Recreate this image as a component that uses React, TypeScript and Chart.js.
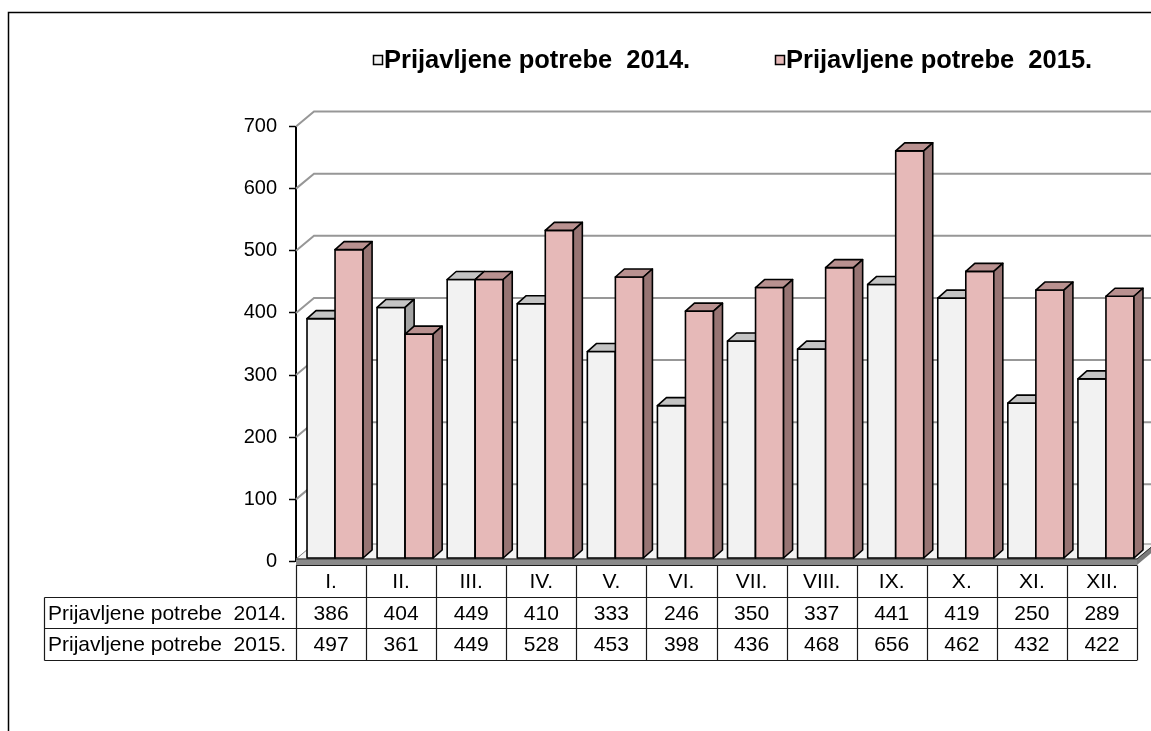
import React, { useEffect, useRef } from 'react';
import { Chart, registerables } from 'chart.js';

Chart.register(...registerables);

const categories = ['I.', 'II.', 'III.', 'IV.', 'V.', 'VI.', 'VII.', 'VIII.', 'IX.', 'X.', 'XI.', 'XII.'];
const values2014 = [386, 404, 449, 410, 333, 246, 350, 337, 441, 419, 250, 289];
const values2015 = [497, 361, 449, 528, 453, 398, 436, 468, 656, 462, 432, 422];
const seriesLabels = ['Prijavljene potrebe  2014.', 'Prijavljene potrebe  2015.'];
const gridValues = [100, 200, 300, 400, 500, 600, 700];

const W = 1151;
const H = 731;
const FONT = "'Liberation Sans', Arial, sans-serif";
const frontColors = ['#F2F2F2', '#E6B9B8'];
const topColors = ['#C4C4C4', '#B99190'];
const sideColors = ['#A3A3A3', '#977473'];

const WALL_DX = 18;
const WALL_DY = 15;
const BAR_DX = 9;
const BAR_DY = 8;
const SHIFT_X = 4;
const SHIFT_Y = -3;

const chart3dPlugin = {
  id: 'chart3d',
  beforeDraw(chart: any) {
    const ctx = chart.ctx;
    ctx.save();
    ctx.fillStyle = '#ffffff';
    ctx.fillRect(0, 0, W, H);
    ctx.strokeStyle = '#000';
    ctx.lineWidth = 1.5;
    ctx.beginPath();
    ctx.moveTo(8.5, H + 2);
    ctx.lineTo(8.5, 12.5);
    ctx.lineTo(W + 2, 12.5);
    ctx.stroke();
    ctx.restore();
  },
  beforeDatasetsDraw(chart: any) {
    const ctx = chart.ctx;
    const { left, right } = chart.chartArea;
    const ys = chart.scales.y;
    const y0 = ys.getPixelForValue(0);
    ctx.save();
    ctx.strokeStyle = '#979797';
    ctx.lineWidth = 2;
    gridValues.forEach((v) => {
      const y = ys.getPixelForValue(v);
      ctx.beginPath();
      ctx.moveTo(left, y);
      ctx.lineTo(left + WALL_DX, y - WALL_DY);
      ctx.lineTo(W + 5, y - WALL_DY);
      ctx.stroke();
    });
    // floor
    const slabTop = y0 - 2.5;
    const slabBot = y0 + 3.5;
    ctx.fillStyle = '#f4f4f4';
    ctx.strokeStyle = '#808080';
    ctx.lineWidth = 1;
    ctx.beginPath();
    ctx.moveTo(left, slabTop);
    ctx.lineTo(right, slabTop);
    ctx.lineTo(right + WALL_DX, slabTop - WALL_DY);
    ctx.lineTo(left + WALL_DX, slabTop - WALL_DY);
    ctx.closePath();
    ctx.fill();
    ctx.stroke();
    ctx.fillStyle = '#8a8a8a';
    ctx.fillRect(left, slabTop, right - left, slabBot - slabTop);
    ctx.beginPath();
    ctx.moveTo(right, slabTop);
    ctx.lineTo(right + WALL_DX, slabTop - WALL_DY);
    ctx.lineTo(right + WALL_DX, slabBot - WALL_DY);
    ctx.lineTo(right, slabBot);
    ctx.closePath();
    ctx.fillStyle = '#7a7a7a';
    ctx.fill();
    ctx.strokeStyle = '#333';
    ctx.beginPath();
    ctx.moveTo(left, slabTop);
    ctx.lineTo(right, slabTop);
    ctx.lineTo(right + WALL_DX, slabTop - WALL_DY);
    ctx.stroke();

    // bars, painter's order left to right
    ctx.lineWidth = 1.6;
    ctx.strokeStyle = '#000';
    ctx.lineJoin = 'round';
    const metas = [chart.getDatasetMeta(0), chart.getDatasetMeta(1)];
    for (let i = 0; i < categories.length; i++) {
      for (let d = 0; d < 2; d++) {
        const el = metas[d].data[i];
        if (!el) continue;
        const p = el.getProps(['x', 'y', 'base', 'width'], true);
        const l = p.x - p.width / 2 + SHIFT_X;
        const r = p.x + p.width / 2 + SHIFT_X;
        const t = p.y + SHIFT_Y;
        const b = p.base + SHIFT_Y;
        ctx.fillStyle = frontColors[d];
        ctx.beginPath();
        ctx.rect(l, t, r - l, b - t);
        ctx.fill();
        ctx.stroke();
        ctx.fillStyle = topColors[d];
        ctx.beginPath();
        ctx.moveTo(l, t);
        ctx.lineTo(r, t);
        ctx.lineTo(r + BAR_DX, t - BAR_DY);
        ctx.lineTo(l + BAR_DX, t - BAR_DY);
        ctx.closePath();
        ctx.fill();
        ctx.stroke();
        ctx.fillStyle = sideColors[d];
        ctx.beginPath();
        ctx.moveTo(r, t);
        ctx.lineTo(r + BAR_DX, t - BAR_DY);
        ctx.lineTo(r + BAR_DX, b - BAR_DY);
        ctx.lineTo(r, b);
        ctx.closePath();
        ctx.fill();
        ctx.stroke();
      }
    }
    ctx.restore();
    return false;
  },
  afterDraw(chart: any) {
    const ctx = chart.ctx;
    const { left, right } = chart.chartArea;
    const xs = chart.scales.x;
    const cw = (right - left) / categories.length;
    const rowY = [565.5, 597.5, 628.5, 660.5];
    const labelLeft = 44.5;
    ctx.save();
    ctx.strokeStyle = '#1a1a1a';
    ctx.lineWidth = 1.2;
    ctx.beginPath();
    ctx.moveTo(left, rowY[0]);
    ctx.lineTo(right, rowY[0]);
    for (let r = 1; r < 4; r++) {
      ctx.moveTo(labelLeft, rowY[r]);
      ctx.lineTo(right, rowY[r]);
    }
    for (let i = 0; i <= categories.length; i++) {
      const x = Math.round(left + i * cw) + 0.5;
      ctx.moveTo(x, rowY[0]);
      ctx.lineTo(x, rowY[3]);
    }
    ctx.moveTo(labelLeft, rowY[1]);
    ctx.lineTo(labelLeft, rowY[3]);
    ctx.stroke();

    ctx.fillStyle = '#000';
    ctx.font = `21px ${FONT}`;
    ctx.textBaseline = 'middle';
    ctx.textAlign = 'center';
    const rows = [values2014, values2015];
    categories.forEach((c, i) => {
      const cx = xs.getPixelForValue(i);
      ctx.fillText(c, cx, (rowY[0] + rowY[1]) / 2 + 1);
      rows.forEach((vals, r) => {
        ctx.fillText(String(vals[i]), cx, (rowY[r + 1] + rowY[r + 2]) / 2 + 1);
      });
    });
    ctx.textAlign = 'left';
    seriesLabels.forEach((s, r) => {
      ctx.fillText(s, 48, (rowY[r + 1] + rowY[r + 2]) / 2 + 1);
    });

    // legend
    const legendX = [373, 775];
    ctx.font = `bold 25.5px ${FONT}`;
    seriesLabels.forEach((s, d) => {
      const x = legendX[d];
      ctx.fillStyle = frontColors[d];
      ctx.fillRect(x + 0.5, 55.5, 9, 9);
      ctx.strokeStyle = '#000';
      ctx.lineWidth = 1.5;
      ctx.strokeRect(x + 0.5, 55.5, 9, 9);
      ctx.fillStyle = '#000';
      ctx.fillText(s, x + 11, 61);
    });
    ctx.restore();
  },
};

export default function App() {
  const canvasRef = useRef<HTMLCanvasElement | null>(null);
  useEffect(() => {
    if (!canvasRef.current) return;
    const chart = new Chart(canvasRef.current, {
      type: 'bar',
      data: {
        labels: categories,
        datasets: [
          { label: seriesLabels[0], data: values2014, backgroundColor: frontColors[0], borderColor: '#000', borderWidth: 1.5 },
          { label: seriesLabels[1], data: values2015, backgroundColor: frontColors[1], borderColor: '#000', borderWidth: 1.5 },
        ],
      },
      options: {
        responsive: false,
        maintainAspectRatio: false,
        animation: false,
        devicePixelRatio: 1,
        layout: { padding: { left: 0, right: 14, top: 126.5, bottom: 169.5 } },
        datasets: { bar: { categoryPercentage: 0.8, barPercentage: 1.0 } },
        plugins: { legend: { display: false }, tooltip: { enabled: false }, title: { display: false } },
        scales: {
          x: { display: false, offset: true },
          y: {
            min: 0,
            max: 700,
            ticks: { stepSize: 100, color: '#000', padding: 12, font: { size: 20, family: FONT } },
            grid: { drawOnChartArea: false, drawTicks: true, tickLength: 7, tickColor: '#000', tickWidth: 1.5 },
            border: { display: true, color: '#000', width: 2 },
            afterFit: (scale: any) => {
              scale.width = 296;
            },
          },
        },
      },
      plugins: [chart3dPlugin],
    });
    return () => chart.destroy();
  }, []);
  return (
    <div style={{ position: 'absolute', left: 0, top: 0, width: W, height: H, background: '#fff' }}>
      <canvas ref={canvasRef} width={W} height={H} style={{ display: 'block', width: W, height: H }} />
    </div>
  );
}
